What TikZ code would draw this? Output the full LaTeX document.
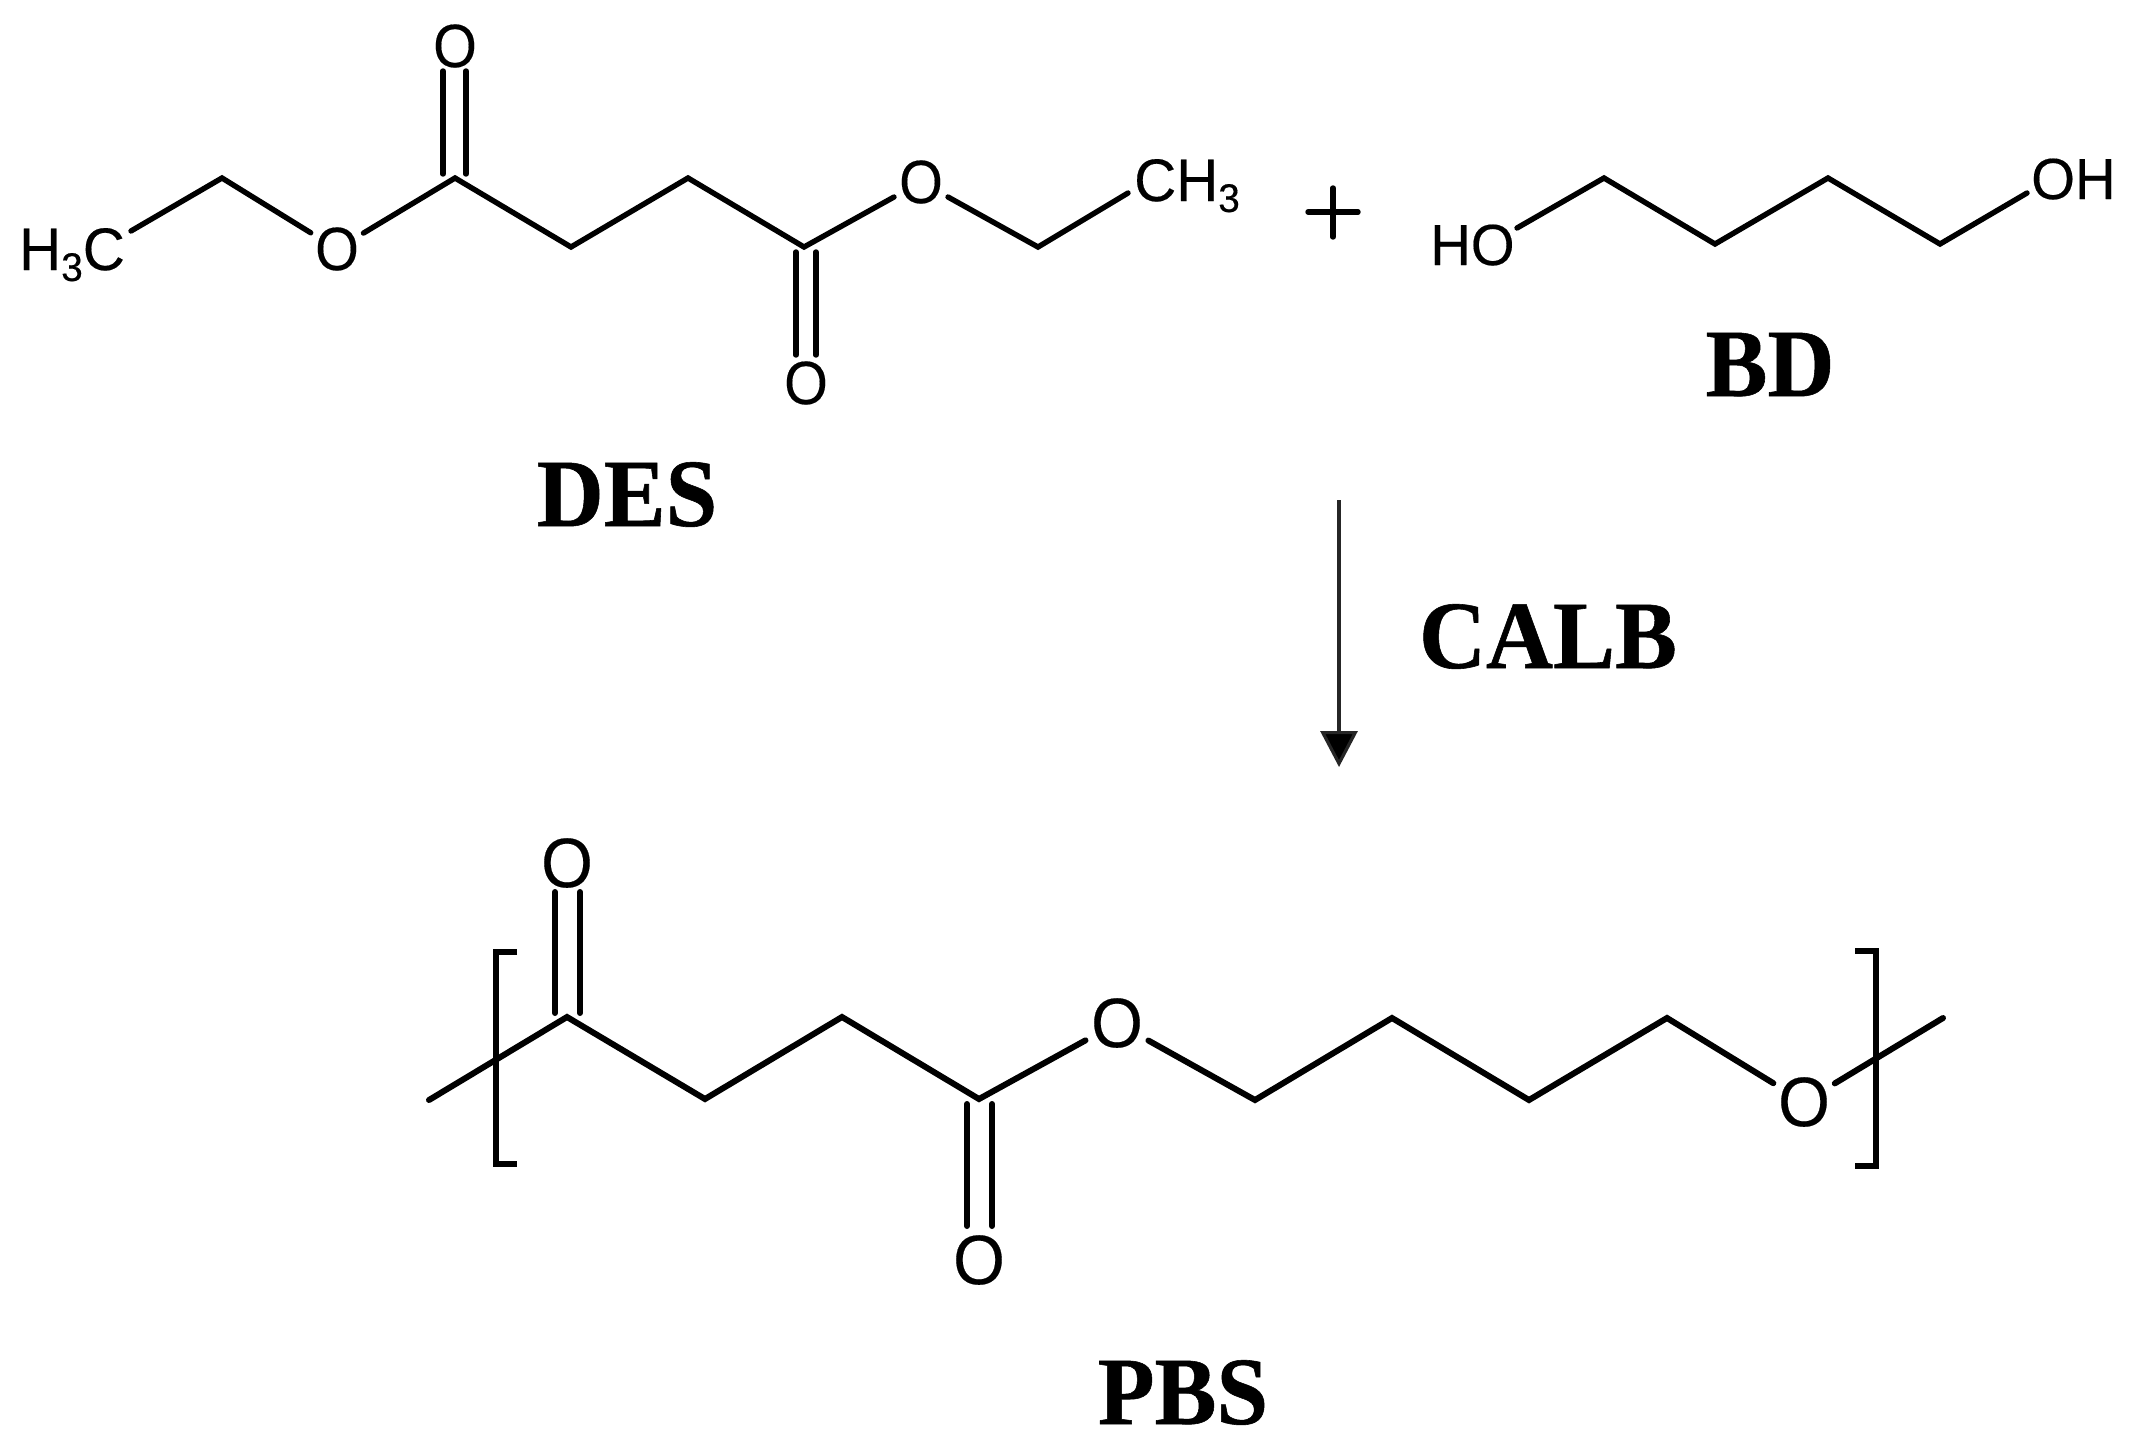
\documentclass[tikz,border=0pt]{standalone}
\usepackage{graphicx}
\usepackage{fontspec}
\setmainfont{Liberation Sans}[FakeBold=0.3]
\newfontfamily\labelfont{Liberation Serif}[FakeBold=0.6]
\usetikzlibrary{arrows.meta}
\newcommand{\subthree}{\raisebox{-11pt}{\fontsize{40}{40}\selectfont 3}}
\newcommand{\narrowed}[2]{\scalebox{#1}[1]{#2}}
\newcommand{\tallcaps}[1]{\scalebox{1.02}[1.06]{#1}}
\tikzset{
  x=1pt,y=-1pt,
  bondA/.style={line width=5.4pt,line cap=round,line join=miter,black},
  bondB/.style={line width=6pt,line cap=round,line join=miter,black},
  atomA/.style={circle,inner sep=0pt,minimum size=60pt,font=\fontsize{61}{61}\selectfont},
  atomB/.style={circle,inner sep=0pt,minimum size=66pt,font=\fontsize{70}{70}\selectfont},
  atomBD/.style={inner sep=0pt,font=\fontsize{58}{58}\selectfont},
  formula/.style={inner sep=0pt,font=\fontsize{60}{60}\selectfont},
  caption/.style={inner sep=0pt,anchor=base,font=\labelfont\bfseries\fontsize{91}{91}\selectfont},
  rxn/.style={line width=3.2pt,draw=black!85,-{Triangle[length=36pt,width=37pt,fill=black]}},
}
\begin{document}
\begin{tikzpicture}
\useasboundingbox (0,0) rectangle (2131,1448);
\fill[white] (0,0) rectangle (2131,1448);

% ----- DES -----
\node[formula,anchor=base west] (h3c) at (19,270) {\narrowed{.97}{H\subthree C}};
\node[formula,anchor=base west] (ch3) at (1134,201) {\narrowed{.97}{CH\subthree}};
\node[atomA] (oL) at (337,249) {\narrowed{.92}{O}};
\node[atomA] (oR) at (921,182) {\narrowed{.92}{O}};
\node[atomA] (oTop) at (455,46) {\narrowed{.92}{O}};
\node[atomA] (oBot) at (806,383) {\narrowed{.92}{O}};
\coordinate (h3cEnd) at (131,231);
\coordinate (ch3End) at (1128,193);
\coordinate (a1) at (222,178);
\coordinate (a2) at (455,178);
\coordinate (a3) at (571,247);
\coordinate (a4) at (688,178);
\coordinate (a5) at (804,247);
\coordinate (a6) at (1038,247);
\draw[bondA] (h3cEnd) -- (a1) -- (oL);
\draw[bondA] (oL) -- (a2) -- (a3) -- (a4) -- (a5) -- (oR);
\draw[bondA] (oR) -- (a6) -- (ch3End);
\coordinate (dt1a) at (443,174); \coordinate (dt1b) at (443,71);
\coordinate (dt2a) at (466,174); \coordinate (dt2b) at (466,71);
\draw[bondA] (dt1a) -- (dt1b);
\draw[bondA] (dt2a) -- (dt2b);
\coordinate (db1a) at (796,252); \coordinate (db1b) at (796,355);
\coordinate (db2a) at (816,252); \coordinate (db2b) at (816,355);
\draw[bondA] (db1a) -- (db1b);
\draw[bondA] (db2a) -- (db2b);
\node[caption] (des) at (627,526) {\tallcaps{DES}};

% ----- plus -----
\coordinate (pl) at (1308,212); \coordinate (pr) at (1358,212);
\coordinate (pt) at (1333,188); \coordinate (pb) at (1333,237);
\draw[bondA] (pl) -- (pr);
\draw[bondA] (pt) -- (pb);

% ----- BD -----
\node[atomBD,anchor=base west] (ho) at (1430,265) {\narrowed{.97}{HO}};
\node[atomBD,anchor=base west] (oh) at (2031,199) {\narrowed{.97}{OH}};
\coordinate (hoEnd) at (1517,228);
\coordinate (ohEnd) at (2027,193);
\coordinate (b1) at (1604,178);
\coordinate (b2) at (1715,244);
\coordinate (b3) at (1828,178);
\coordinate (b4) at (1940,244);
\draw[bondA] (hoEnd) -- (b1) -- (b2) -- (b3) -- (b4) -- (ohEnd);
\node[caption] (bd) at (1770,396) {\tallcaps{BD}};

% ----- reaction arrow -----
\coordinate (arrTop) at (1339,500);
\coordinate (arrTip) at (1339,767);
\draw[rxn] (arrTop) -- (arrTip);
\node[caption] (calb) at (1548,668) {\tallcaps{CALB}};

% ----- PBS -----
\node[atomB] (pO1) at (567,863) {\narrowed{.95}{O}};
\node[atomB] (pO2) at (979,1260) {\narrowed{.95}{O}};
\node[atomB] (pO3) at (1117,1023) {\narrowed{.95}{O}};
\node[atomB] (pO4) at (1804,1102) {\narrowed{.95}{O}};
\coordinate (pL) at (429,1100);
\coordinate (pR) at (1943,1018);
\coordinate (c1) at (567,1017);
\coordinate (c2) at (705,1099);
\coordinate (c3) at (842,1017);
\coordinate (c4) at (979,1099);
\coordinate (c5) at (1255,1100);
\coordinate (c6) at (1392,1018);
\coordinate (c7) at (1529,1100);
\coordinate (c8) at (1667,1018);
\draw[bondB] (pL) -- (c1) -- (c2) -- (c3) -- (c4) -- (pO3);
\draw[bondB] (pO3) -- (c5) -- (c6) -- (c7) -- (c8) -- (pO4);
\draw[bondB] (pO4) -- (pR);
\coordinate (e1a) at (555,1013); \coordinate (e1b) at (555,892);
\coordinate (e2a) at (580,1013); \coordinate (e2b) at (580,892);
\draw[bondB] (e1a) -- (e1b);
\draw[bondB] (e2a) -- (e2b);
\coordinate (f1a) at (967,1104); \coordinate (f1b) at (967,1226);
\coordinate (f2a) at (992,1104); \coordinate (f2b) at (992,1226);
\draw[bondB] (f1a) -- (f1b);
\draw[bondB] (f2a) -- (f2b);
\draw[bondB,line cap=butt] (517,952) -- (496,952) -- (496,1164) -- (517,1164);
\draw[bondB,line cap=butt] (1855,951) -- (1876,951) -- (1876,1166) -- (1855,1166);
\node[caption] (pbs) at (1183,1424) {\tallcaps{PBS}};
\end{tikzpicture}
\end{document}
